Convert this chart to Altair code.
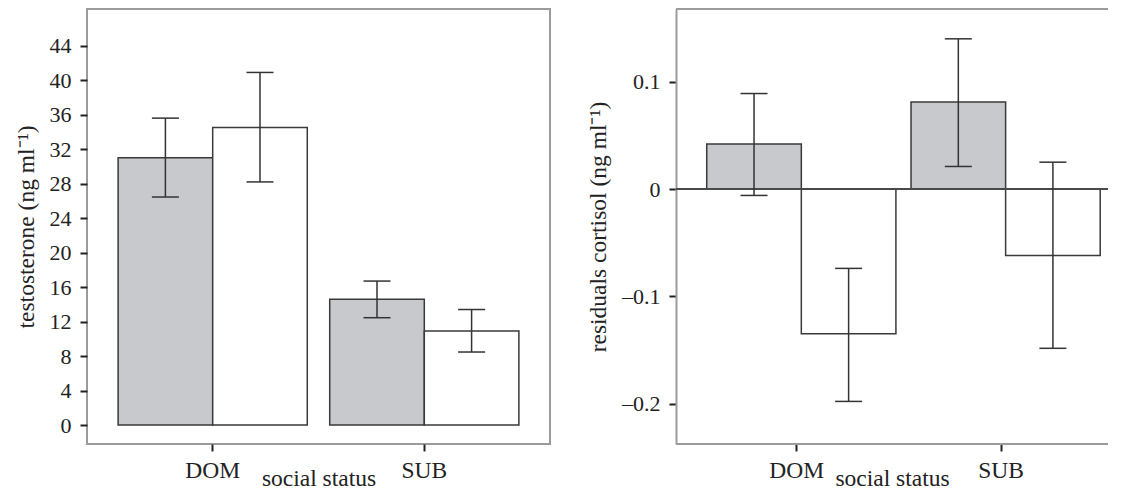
import altair as alt
import pandas as pd

FONT = "Liberation Serif"

# ---- data ----
statuses = ["DOM", "SUB"]
groups = ["grey", "white"]
status_col = ["DOM", "DOM", "SUB", "SUB"]
group_col = ["grey", "white", "grey", "white"]

testo_mean = [31.0, 34.5, 14.6, 10.9]
testo_lo = [26.45, 28.2, 12.45, 8.47]
testo_hi = [35.6, 40.9, 16.7, 13.4]
testo_ticks = [0, 4, 8, 12, 16, 20, 24, 28, 32, 36, 40, 44]
testo_domain = [-2.2, 48.26]

cort_mean = [0.042, -0.135, 0.081, -0.062]
cort_lo = [-0.006, -0.198, 0.021, -0.1485]
cort_hi = [0.089, -0.074, 0.140, 0.025]
cort_ticks = [-0.2, -0.1, 0, 0.1]
cort_domain = [-0.2377, 0.1678]

FRAME = "#9b9b9b"
INK = "#222222"


def make_df(mean, lo, hi, ydomain):
    n = len(mean)
    return pd.DataFrame({
        "status": status_col,
        "group": group_col,
        "mean": mean,
        "lo": lo,
        "hi": hi,
        "zero": [0] * n,
        "ybot": [ydomain[0]] * n,
        "ytop": [ydomain[1]] * n,
    })


def panel(df, ydomain, yticks, ytitle, width, pi, po, align, right_panel):
    x_axis = alt.Axis(title="social status", labelAngle=0, labelFontSize=23.5,
                      labelPadding=7, titleFontSize=23.5, titleY=22,
                      titleBaseline="top")
    yax = dict(title=ytitle, values=yticks, labelFontSize=22,
               labelPadding=9, titleFontSize=23.5, titlePadding=11)
    if right_panel:
        yax.update(domain=True, domainColor=FRAME, domainWidth=2,
                   labelExpr="datum.value == 0 ? '0' : replace(format(datum.value, '.1f'), '\u2212', '\u2013')")
    y_axis = alt.Axis(**yax)
    x = alt.X("status:N", sort=statuses, axis=x_axis,
              scale=alt.Scale(paddingInner=pi, paddingOuter=po, align=align))
    xo = alt.XOffset("group:N", sort=groups,
                     scale=alt.Scale(paddingInner=0, paddingOuter=0))
    ysc = alt.Scale(domain=ydomain, nice=False, zero=False)
    base = alt.Chart(df)

    bars = base.mark_bar(stroke="#3a3a3a", strokeWidth=1.5).encode(
        x=x, xOffset=xo,
        y=alt.Y("mean:Q", scale=ysc, axis=y_axis),
        y2="zero:Q",
        fill=alt.Fill("group:N", scale=alt.Scale(domain=groups, range=["#c8c9cc", "#ffffff"]),
                      legend=None),
    )
    layers = [bars]
    if right_panel:
        layers.append(base.mark_rule(color="#4a4a4a", strokeWidth=1.5).encode(
            y=alt.Y("zero:Q", scale=ysc, axis=y_axis)))
        for f in ["ybot", "ytop"]:
            layers.append(base.mark_rule(color=FRAME, strokeWidth=2).encode(
                y=alt.Y(f + ":Q", scale=ysc, axis=y_axis)))
    layers.append(base.mark_rule(color="#333333", strokeWidth=1.5).encode(
        x=x, xOffset=xo,
        y=alt.Y("lo:Q", scale=ysc, axis=y_axis), y2="hi:Q"))
    for f in ["lo", "hi"]:
        layers.append(base.mark_tick(orient="horizontal", size=27, thickness=1.5,
                                     color="#333333", opacity=1).encode(
            x=x, xOffset=xo, y=alt.Y(f + ":Q", scale=ysc, axis=y_axis)))
    ch = alt.layer(*layers).properties(width=width, height=435)
    if not right_panel:
        ch = ch.properties(view=alt.ViewBackground(stroke=FRAME, strokeWidth=2))
    return ch


left = panel(make_df(testo_mean, testo_lo, testo_hi, testo_domain), testo_domain, testo_ticks,
             "testosterone (ng ml\u207b\u00b9)", 463, 0.106, 0.147, 0.5, False)
right = panel(make_df(cort_mean, cort_lo, cort_hi, cort_domain), cort_domain, cort_ticks,
              "residuals cortisol (ng ml\u207b\u00b9)", 432, 0.119, 0.1168, 0.644, True)

chart = alt.hconcat(left, right, spacing=35).resolve_scale(
    x="independent", y="independent"
).properties(
    padding={"left": 5, "top": 0, "right": 0, "bottom": 0},
    background="white",
).configure_view(
    stroke="transparent", strokeWidth=0
).configure_axis(
    labelFont=FONT, titleFont=FONT, labelColor=INK, titleColor=INK,
    tickColor=INK, tickWidth=2, tickSize=7, domain=False, grid=False,
    titleFontWeight="normal",
)

chart.save("out.html", embed_options={"renderer": "svg", "actions": False})
